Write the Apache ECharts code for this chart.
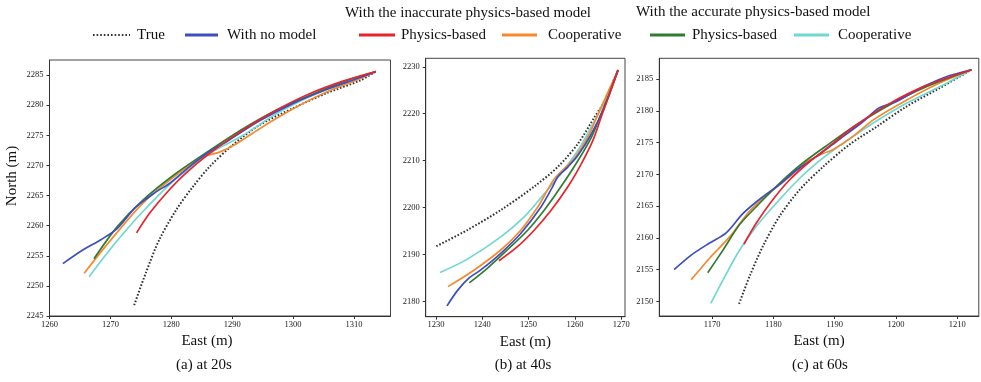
<!DOCTYPE html>
<html>
<head>
<meta charset="utf-8">
<script src="https://cdn.jsdelivr.net/npm/echarts@6/dist/echarts.min.js"></script>
<style>
  html, body { margin: 0; padding: 0; background: #fff; }
  #chart { width: 981px; height: 382px; }
</style>
</head>
<body>
<div id="chart"></div>
<script>
// Vehicle trajectories, [East, North] in metres, at three time instants.

// (a) at 20s
const trueA = [[1273.9,2246.8],[1275.8,2252.1],[1278.0,2257.6],[1280.8,2262.6],[1283.5,2266.4],[1286.3,2269.8],[1290.1,2273.4],[1294.5,2276.7],[1300.0,2279.5],[1305.5,2282.0],[1311.0,2284.1],[1313.6,2285.6]];
const noModelA = [[1262.2,2253.7],[1265.4,2255.9],[1268.5,2257.7],[1271.1,2259.5],[1274.2,2263.1],[1277.5,2265.6],[1279.7,2267.0],[1283.0,2269.8],[1286.3,2272.3],[1289.0,2273.9],[1294.5,2277.4],[1300.0,2280.3],[1305.5,2282.6],[1311.0,2284.6],[1313.6,2285.6]];
const inaccPhysA = [[1274.3,2258.8],[1276.4,2262.0],[1279.1,2265.3],[1282.4,2268.7],[1286.3,2272.0],[1291.8,2275.9],[1297.3,2279.2],[1302.7,2281.9],[1308.2,2284.0],[1313.6,2285.6]];
const inaccCoopA = [[1265.7,2252.1],[1269.8,2257.3],[1275.3,2263.7],[1280.8,2268.4],[1285.2,2271.4],[1287.9,2272.2],[1290.7,2273.6],[1294.5,2276.1],[1300.0,2279.4],[1305.5,2282.2],[1311.0,2284.4],[1313.6,2285.6]];
const accPhysA = [[1267.3,2254.5],[1271.1,2259.8],[1275.3,2264.2],[1280.8,2268.7],[1286.3,2272.5],[1291.8,2276.1],[1297.3,2279.2],[1302.7,2281.6],[1308.2,2283.9],[1313.6,2285.6]];
const accCoopA = [[1266.5,2251.5],[1270.3,2256.5],[1275.3,2262.3],[1280.8,2267.8],[1286.3,2272.0],[1291.8,2275.0],[1297.3,2278.6],[1302.7,2281.4],[1308.2,2283.7],[1313.6,2285.6]];

// (b) at 40s
const trueB = [[1230.1,2191.8],[1236.7,2195.2],[1244.0,2199.5],[1251.2,2204.5],[1256.3,2208.7],[1260.7,2213.7],[1264.3,2219.4],[1266.2,2222.3],[1267.9,2226.1],[1269.3,2229.3]];
const noModelB = [[1232.4,2179.1],[1234.6,2182.3],[1237.1,2185.0],[1239.6,2186.7],[1244.0,2190.3],[1248.3,2194.5],[1252.7,2200.2],[1255.2,2204.5],[1256.3,2206.6],[1258.5,2208.7],[1260.7,2211.2],[1263.6,2215.8],[1266.4,2221.5],[1269.3,2229.3]];
const inaccPhysB = [[1243.6,2188.7],[1247.6,2191.7],[1251.2,2195.2],[1254.9,2199.5],[1258.5,2204.5],[1261.4,2209.4],[1263.9,2214.4],[1265.7,2219.4],[1267.5,2224.3],[1269.3,2229.3]];
const inaccCoopB = [[1232.6,2183.2],[1238.2,2186.7],[1244.0,2191.0],[1248.3,2195.2],[1252.0,2200.2],[1254.1,2203.8],[1255.6,2206.2],[1257.8,2208.4],[1259.9,2210.5],[1262.8,2215.1],[1265.7,2221.5],[1269.3,2229.3]];
const accPhysB = [[1237.2,2184.0],[1241.1,2187.1],[1245.4,2191.0],[1249.8,2195.2],[1253.4,2199.5],[1257.0,2204.5],[1260.7,2210.1],[1263.6,2215.1],[1265.7,2220.1],[1267.6,2224.8],[1269.3,2229.3]];
const accCoopB = [[1230.9,2186.2],[1236.7,2189.0],[1244.0,2193.8],[1249.1,2198.1],[1253.4,2203.0],[1257.0,2207.3],[1260.7,2212.3],[1264.5,2219.0],[1267.3,2224.5],[1269.3,2229.3]];

// (c) at 60s
const trueC = [[1174.4,2149.6],[1176.1,2153.9],[1178.3,2158.7],[1181.0,2163.4],[1184.3,2167.6],[1188.1,2171.2],[1192.4,2174.7],[1196.8,2177.5],[1201.7,2180.7],[1207.1,2183.6],[1212.3,2186.5]];
const noModelC = [[1163.8,2155.0],[1166.6,2157.3],[1169.6,2159.2],[1172.3,2160.8],[1175.1,2163.9],[1178.3,2166.5],[1181.0,2168.4],[1183.8,2170.7],[1187.0,2172.8],[1190.3,2175.2],[1194.6,2178.3],[1197.1,2180.4],[1200.1,2181.5],[1204.4,2183.8],[1208.2,2185.4],[1212.3,2186.5]];
const inaccPhysC = [[1175.2,2159.0],[1177.2,2162.3],[1179.9,2166.0],[1182.7,2169.2],[1185.9,2172.0],[1189.7,2174.9],[1193.5,2177.8],[1199.0,2181.2],[1204.4,2183.8],[1212.3,2186.5]];
const inaccCoopC = [[1166.6,2153.4],[1169.6,2156.8],[1172.9,2160.2],[1176.1,2164.2],[1179.4,2167.1],[1182.7,2169.7],[1185.4,2172.0],[1188.1,2173.3],[1189.7,2173.9],[1193.0,2176.0],[1196.3,2178.6],[1201.7,2181.7],[1207.1,2184.4],[1212.3,2186.5]];
const accPhysC = [[1169.3,2154.5],[1171.8,2158.1],[1174.5,2162.1],[1177.8,2165.5],[1181.0,2168.6],[1184.8,2171.8],[1189.2,2174.9],[1193.5,2177.8],[1199.0,2181.0],[1204.4,2183.6],[1212.3,2186.5]];
const accCoopC = [[1169.8,2149.7],[1171.8,2153.4],[1174.5,2158.1],[1177.2,2161.8],[1180.5,2165.5],[1184.3,2169.4],[1188.1,2172.6],[1191.5,2175.0],[1196.3,2178.1],[1201.7,2181.2],[1207.1,2183.8],[1212.3,2186.5]];

// Tick labels
const eastTicksA = [1260, 1270, 1280, 1290, 1300, 1310];
const northTicksA = [2245, 2250, 2255, 2260, 2265, 2270, 2275, 2280, 2285];
const eastTicksB = [1230, 1240, 1250, 1260, 1270];
const northTicksB = [2180, 2190, 2200, 2210, 2220, 2230];
const eastTicksC = [1170, 1180, 1190, 1200, 1210];
const northTicksC = [2150, 2155, 2160, 2165, 2170, 2175, 2180, 2185];

const captions = ['(a) at 20s', '(b) at 40s', '(c) at 60s'];
const legendLabels = ['True', 'With no model', 'Physics-based', 'Cooperative', 'Physics-based', 'Cooperative'];
const groupTitles = ['With the inaccurate physics-based model', 'With the accurate physics-based model'];

const SERIF = "'Liberation Serif', 'Times New Roman', serif";
const colors = ['#333333', '#3d4fbf', '#e8232b', '#f7892d', '#2f7d32', '#6fd8d2'];
const seriesNames = ['True', 'With no model', 'Physics-based (inaccurate)', 'Cooperative (inaccurate)', 'Physics-based (accurate)', 'Cooperative (accurate)'];

const grids = [
  { left: 49.5, top: 60, width: 341, height: 256 },
  { left: 425.7, top: 58.3, width: 199.3, height: 258.4 },
  { left: 659.3, top: 58.3, width: 319.5, height: 257.7 }
];
const ranges = [
  { x: [1260, 1316], y: [2245, 2287.5], xt: eastTicksA, yt: northTicksA },
  { x: [1227.8, 1270.8], y: [2176.8, 2231.8], xt: eastTicksB, yt: northTicksB },
  { x: [1161.4, 1213.5], y: [2147.7, 2188.3], xt: eastTicksC, yt: northTicksC }
];

function axis(i, ticks, lo, hi, margin) {
  return {
    type: 'value', gridIndex: i, min: lo, max: hi,
    splitLine: { show: false },
    axisLine: { show: true, lineStyle: { color: '#333', width: 1 } },
    axisTick: { show: true, length: 3, customValues: ticks, lineStyle: { color: '#333' } },
    axisLabel: { customValues: ticks, formatter: v => String(v), fontFamily: SERIF, fontSize: 8.5, color: '#222', margin }
  };
}

const xAxes = ranges.map((r, i) => Object.assign(axis(i, r.xt, r.x[0], r.x[1], 4), {
  name: 'East (m)', nameLocation: 'middle', nameGap: 18,
  nameTextStyle: { fontFamily: SERIF, fontSize: 15, color: '#111', padding: i === 0 ? [0, 26, 0, 0] : 0 }
}));
const yAxes = ranges.map((r, i) => axis(i, r.yt, r.y[0], r.y[1], 6));

function line(k, data, idx) {
  const dotted = k === 0;
  return {
    name: seriesNames[k], type: 'line', data,
    xAxisIndex: idx, yAxisIndex: idx,
    symbol: 'none', smooth: 0.3, silent: true, animation: false,
    lineStyle: dotted
      ? { color: colors[k], width: 2, type: [1.6, 1.8] }
      : { color: colors[k], width: 1.7 }
  };
}

const panels = [
  [trueA, noModelA, inaccPhysA, inaccCoopA, accPhysA, accCoopA],
  [trueB, noModelB, inaccPhysB, inaccCoopB, accPhysB, accCoopB],
  [trueC, noModelC, inaccPhysC, inaccCoopC, accPhysC, accCoopC]
];
const drawOrder = [0, 5, 3, 4, 1, 2];
const series = [];
panels.forEach((p, i) => drawOrder.forEach(k => series.push(line(k, p[k], i))));

// Legend: key line from x0 to x1, label starting at tx, all on one row
const legendRowY = 35;
const legendSlots = [
  { x0: 93, x1: 130, tx: 137 },
  { x0: 185, x1: 218, tx: 227 },
  { x0: 359, x1: 395, tx: 401 },
  { x0: 502, x1: 537, tx: 548 },
  { x0: 650, x1: 685, tx: 692 },
  { x0: 794, x1: 829, tx: 838 }
];
const textStyle = (text, x, y, align) => ({
  type: 'text', x, y, silent: true,
  style: { text, font: '15px ' + SERIF, fill: '#111', textAlign: align || 'left', textVerticalAlign: 'middle' }
});
const graphics = [];
legendSlots.forEach((s, k) => {
  graphics.push({
    type: 'line', silent: true,
    shape: { x1: s.x0, y1: legendRowY, x2: s.x1, y2: legendRowY },
    style: k === 0
      ? { stroke: colors[k], lineWidth: 2.2, lineDash: [1.6, 2] }
      : { stroke: colors[k], lineWidth: 3 }
  });
  graphics.push(textStyle(legendLabels[k], s.tx, legendRowY));
});
graphics.push(textStyle(groupTitles[0], 345, 13));
graphics.push(textStyle(groupTitles[1], 636, 12));
graphics.push(Object.assign(textStyle('North (m)', 12, 176, 'center'), { rotation: Math.PI / 2 }));
graphics.push(textStyle(captions[0], 204, 365, 'center'));
graphics.push(textStyle(captions[1], 523, 365, 'center'));
graphics.push(textStyle(captions[2], 820, 365, 'center'));

const chart = echarts.init(document.getElementById('chart'));
chart.setOption({
  animation: false,
  backgroundColor: '#fff',
  grid: grids.map(g => Object.assign({ show: true, borderColor: '#444', borderWidth: 1, containLabel: false }, g)),
  xAxis: xAxes,
  yAxis: yAxes,
  series,
  graphic: graphics
});
</script>
</body>
</html>
